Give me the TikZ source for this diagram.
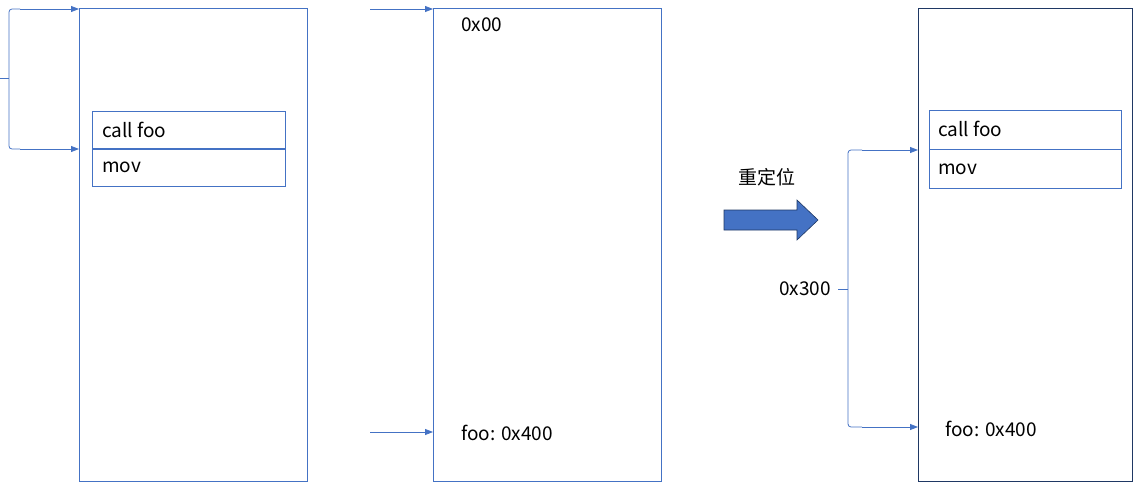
\documentclass[tikz,border=0pt]{standalone}
\usepackage{fontspec}
\setmainfont{Noto Sans CJK SC}
\usetikzlibrary{arrows.meta}
\definecolor{lb}{HTML}{4472C4}
\definecolor{nv}{HTML}{1F3864}
\begin{document}
\begin{tikzpicture}[x=1pt,y=-1pt,
  mem/.style={draw=lb,line width=0.8pt},
  con/.style={draw=lb,line width=0.8pt,-{Triangle[length=8pt,width=6pt]}},
  br/.style={draw=lb,line width=0.8pt,rounded corners=3pt},
  lbl/.style={font=\fontsize{19}{22}\selectfont,anchor=west,inner sep=0pt}]
\useasboundingbox (0,0) rectangle (1133,482);
% box 1
\draw[mem] (79,8) rectangle (307,481);
\node[mem,minimum width=193pt,minimum height=37pt,anchor=north west,inner sep=0pt] (c1) at (92,111) {};
\node[mem,minimum width=193pt,minimum height=37pt,anchor=north west,inner sep=0pt] (m1) at (92,149) {};
\node[lbl] at (102,130) {call foo};
\node[lbl] at (102,167) {mov};
\coordinate (b1t) at (79,9); \coordinate (b1b) at (79,149);
\draw[br] (20,9) -- (9,9) -- (9,149) -- (20,149);
\draw[lb,line width=0.8pt] (0,78) -- (9,78);
\draw[con] (20,9) -- (b1t);
\draw[con] (20,149) -- (b1b);
% box 2
\draw[mem] (433,8) rectangle (661,481);
\coordinate (s1) at (370,9); \coordinate (e1) at (433,9);
\coordinate (s2) at (370,432); \coordinate (e2) at (433,432);
\draw[con] (s1) -- (e1);
\draw[con] (s2) -- (e2);
\node[lbl] at (461,25) {0x00};
\node[lbl] at (461,433) {foo: 0x400};
% arrow
\node[lbl,anchor=center] (rl) at (767,177) {重定位};
\draw[fill=lb,draw=nv,line width=0.6pt] (724,210) -- (797,210) -- (797,200) -- (818,220) -- (797,240) -- (797,230) -- (724,230) -- cycle;
% box 3
\draw[nv,line width=0.8pt] (918,8) rectangle (1132,481);
\node[mem,minimum width=192pt,minimum height=39pt,anchor=north west,inner sep=0pt] (c3) at (929,110) {};
\node[mem,minimum width=192pt,minimum height=39pt,anchor=north west,inner sep=0pt] (m3) at (929,149) {};
\node[lbl] at (938,129) {call foo};
\node[lbl] at (938,169) {mov};
\draw[br] (862,150) -- (848,150) -- (848,427) -- (862,427);
\draw[lb,line width=0.8pt] (838,289) -- (848,289);
\node[lbl,anchor=east] at (831,289) {0x300};
\coordinate (t3) at (918,150); \coordinate (u3) at (918,427);
\draw[con] (862,150) -- (t3);
\draw[con] (862,427) -- (u3);
\node[lbl] at (945,429) {foo: 0x400};
\end{tikzpicture}
\end{document}
